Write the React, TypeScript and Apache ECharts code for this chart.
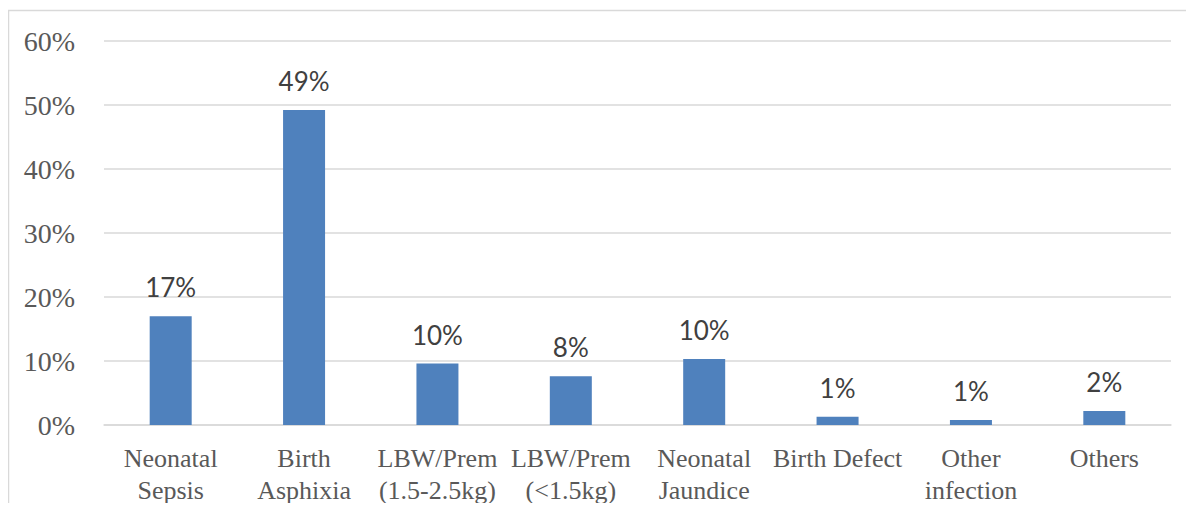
import React, { useEffect, useRef } from "react";
import * as echarts from "echarts";

const categories = [
  "Neonatal\nSepsis",
  "Birth\nAsphixia",
  "LBW/Prem\n(1.5-2.5kg)",
  "LBW/Prem\n(<1.5kg)",
  "Neonatal\nJaundice",
  "Birth Defect",
  "Other\ninfection",
  "Others",
];
const values = [17.0, 49.2, 9.6, 7.6, 10.3, 1.3, 0.8, 2.2];
const valueLabels = ["17%", "49%", "10%", "8%", "10%", "1%", "1%", "2%"];

export default function App() {
  const ref = useRef<HTMLDivElement>(null);
  useEffect(() => {
    if (!ref.current) return;
    const chart = echarts.init(ref.current, null, { renderer: "svg" });
    chart.setOption({
      animation: false,
      backgroundColor: "#ffffff",
      graphic: [
        {
          type: "rect",
          shape: { x: 8.5, y: 10.5, width: 1200, height: 520 },
          style: { fill: "none", stroke: "#d9d9d9", lineWidth: 1.5 },
          silent: true,
          z: -1,
        },
      ],
      grid: { left: 104, right: 23, top: 41, bottom: 86 },
      xAxis: {
        type: "category",
        data: categories,
        axisTick: { show: false },
        axisLine: { show: true, lineStyle: { color: "#d9d9d9", width: 1.5 } },
        axisLabel: {
          fontFamily: "Liberation Serif",
          fontSize: 26,
          color: "#595959",
          lineHeight: 32,
          margin: 17,
          interval: 0,
        },
      },
      yAxis: {
        type: "value",
        min: 0,
        max: 60,
        interval: 10,
        axisLine: { show: false },
        axisTick: { show: false },
        splitLine: { lineStyle: { color: "#d9d9d9", width: 1.5 } },
        axisLabel: {
          formatter: "{value}%",
          fontFamily: "Liberation Serif",
          fontSize: 28,
          color: "#595959",
          margin: 29,
        },
      },
      series: [
        {
          type: "bar",
          data: values,
          barWidth: 42,
          itemStyle: { color: "#4f81bd" },
          label: {
            show: true,
            position: "top",
            distance: 16,
            fontFamily: "Lato",
            fontSize: 26,
            color: "#404040",
            formatter: (p: any) => valueLabels[p.dataIndex],
          },
        },
      ],
    });
    return () => chart.dispose();
  }, []);
  return <div ref={ref} style={{ width: 1194, height: 511, margin: -8 }} />;
}
